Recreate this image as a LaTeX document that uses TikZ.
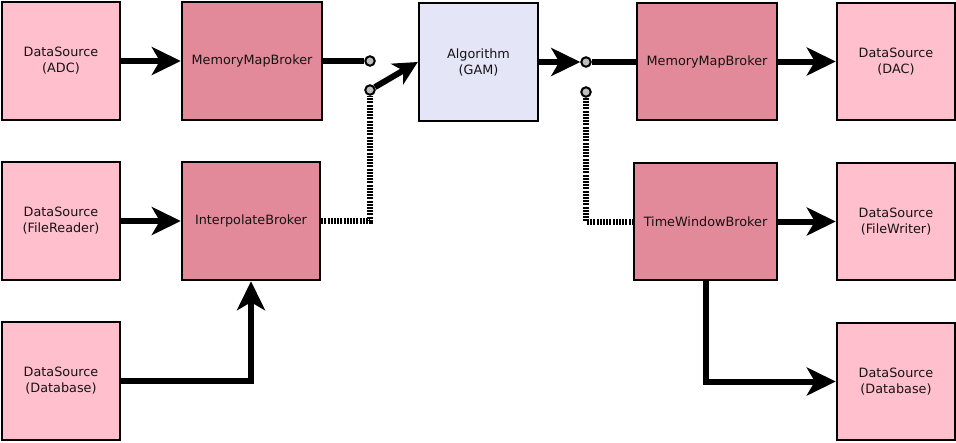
\documentclass[tikz,border=0pt]{standalone}
\usepackage{fontspec}
\setmainfont{DejaVu Sans}
\usetikzlibrary{arrows.meta}
\definecolor{dspink}{RGB}{255,191,204}
\definecolor{brokerc}{RGB}{226,138,153}
\definecolor{algc}{RGB}{229,229,248}
\definecolor{swgray}{RGB}{190,190,190}
\definecolor{txt}{RGB}{20,20,20}
\begin{document}
\begin{tikzpicture}[x=1pt,y=-1pt,
  box/.style={draw=black,line width=2.4pt,rectangle,inner sep=0pt,align=center,
    text=txt,font=\fontsize{12.8}{16}\selectfont},
  dsbox/.style={box,fill=dspink,minimum width=118pt,minimum height=118pt},
  brbox/.style={box,fill=brokerc,minimum height=118pt},
  algbox/.style={box,fill=algc,minimum width=119pt,minimum height=118pt},
  sw/.style={circle,draw=black,fill=swgray,line width=2pt,minimum size=9.5pt,inner sep=0pt},
  wire/.style={line width=6pt},
  bigarrow/.style={wire,-{Stealth[length=29pt,width=28pt,inset=8pt]}},
  smallarrow/.style={wire,-{Stealth[length=24pt,width=24pt,inset=7pt]}},
  dotwire/.style={line width=6pt,dash pattern=on 2pt off 1.2pt}
]
\useasboundingbox (0,0) rectangle (956,442);

% boxes
\node[dsbox] (dsadc) at (61,61) {DataSource\\(ADC)};
\node[brbox,minimum width=140pt] (mmb1) at (252,61) {MemoryMapBroker};
\node[algbox] (alg) at (478.5,62) {Algorithm\\(GAM)};
\node[brbox,minimum width=140pt,minimum height=117pt] (mmb2) at (707,61.5) {MemoryMapBroker};
\node[dsbox,minimum height=117pt] (dac) at (896,61.5) {DataSource\\(DAC)};

\node[dsbox] (dsfr) at (61,221) {DataSource\\(FileReader)};
\node[brbox,minimum width=138pt] (ipb) at (251,221) {InterpolateBroker};
\node[brbox,minimum width=143pt,minimum height=117pt] (twb) at (705.5,221.5) {TimeWindowBroker};
\node[dsbox,minimum height=117pt] (dsfw) at (896,221.5) {DataSource\\(FileWriter)};

\node[dsbox] (dsdb1) at (61,381) {DataSource\\(Database)};
\node[dsbox,minimum height=117pt] (dsdb2) at (896,381.5) {DataSource\\(Database)};

% switch contacts
\node[sw] (sw1a) at (370,61) {};
\node[sw] (sw1b) at (370,90) {};
\node[sw] (sw2a) at (586,62) {};
\node[sw] (sw2b) at (586,92) {};

% connectors
\draw[bigarrow] (dsadc.east) -- (mmb1.west);
\draw[wire] (mmb1.east) -- (sw1a);
\draw[smallarrow] (sw1b) -- (alg.west);
\draw[dotwire] (ipb.east) -| (sw1b);
\draw[bigarrow] (alg.east) -- (sw2a);
\draw[wire] (sw2a) -- (mmb2.west |- sw2a);
\draw[dotwire] (sw2b) |- (twb.west);
\draw[bigarrow] (mmb2.east) -- (dac.west);
\draw[bigarrow] (dsfr.east) -- (ipb.west);
\draw[bigarrow] (dsdb1.east) -| (ipb.south);
\draw[bigarrow] (twb.east) -- (dsfw.west);
\draw[bigarrow] (twb.south) |- (dsdb2.west);
\end{tikzpicture}
\end{document}
